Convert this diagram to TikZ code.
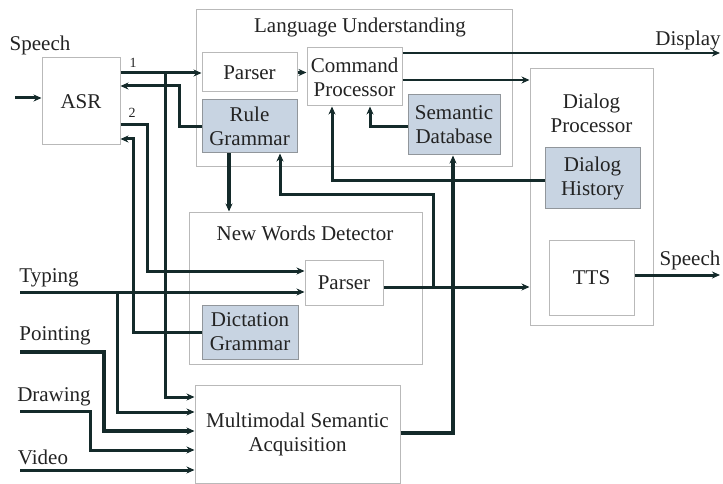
\documentclass[tikz,border=0pt]{standalone}
\usepackage{fontspec}
\setmainfont{Liberation Serif}
\usetikzlibrary{arrows.meta}
\definecolor{wire}{RGB}{20,42,42}
\definecolor{frame}{RGB}{185,185,185}
\definecolor{shadefill}{RGB}{200,212,226}
\definecolor{shadeline}{RGB}{145,150,155}
\definecolor{ink}{RGB}{35,35,35}
\tikzset{
  box/.style={draw=frame, line width=1pt, fill=white, text=ink, align=center, inner sep=0pt},
  dbox/.style={draw=shadeline, line width=1pt, fill=shadefill, text=ink, align=center, inner sep=0pt},
  lbl/.style={text=ink, inner sep=0pt, align=center},
  wirestyle/.style={draw=wire, line width=3pt},
  arr/.style={wirestyle, -{Stealth[length=8pt,width=7pt]}},
  thick arr/.style={arr, line width=3.3pt},
}
\begin{document}
\begin{tikzpicture}[x=1pt, y=-1pt, font=\fontsize{21}{24}\selectfont]
\useasboundingbox (0,0) rectangle (723,484);

% outer group frames
\node[box, minimum width=316, minimum height=157] (LU) at (354,88.5) {};
\node[lbl] (LUt) at (360,27) {Language Understanding};
\node[box, minimum width=123, minimum height=256] (DP) at (591.5,197) {};
\node[lbl] (DPt) at (591.5,113) {Dialog\\Processor};
\node[box, minimum width=233, minimum height=152] (NWD) at (305.5,288) {};
\node[lbl] (NWDt) at (305,233) {New Words Detector};

% modules
\node[box, minimum width=78, minimum height=87] (ASR) at (81,101.5) {ASR};
\node[box, minimum width=95, minimum height=39] (P1) at (249.5,72.5) {Parser};
\node[dbox, minimum width=95, minimum height=53] (RG) at (249.5,126.5) {Rule\\Grammar};
\node[box, minimum width=95, minimum height=58] (CP) at (354.5,77) {Command\\Processor};
\node[dbox, minimum width=92, minimum height=60] (SD) at (454,125) {Semantic\\Database};
\node[dbox, minimum width=95, minimum height=60] (DH) at (592.5,178) {Dialog\\History};
\node[box, minimum width=85, minimum height=75] (TTS) at (591.5,277.5) {TTS};
\node[box, minimum width=78, minimum height=45] (P2) at (344,283) {Parser};
\node[dbox, minimum width=96, minimum height=54] (DG) at (250,332) {Dictation\\Grammar};
\node[box, minimum width=205, minimum height=98] (MSA) at (297.5,434) {Multimodal Semantic\\Acquisition};

% external labels
\node[lbl] (inSpeech) at (40,45) {Speech};
\node[lbl] (inTyping) at (49,278) {Typing};
\node[lbl] (inPointing) at (55,336) {Pointing};
\node[lbl] (inDrawing) at (54,397) {Drawing};
\node[lbl] (inVideo) at (43,457) {Video};
\node[lbl] (outDisplay) at (688,40) {Display};
\node[lbl] (outSpeech) at (690,260) {Speech};
\node[lbl, font=\fontsize{14}{14}\selectfont] (n1) at (133,63) {1};
\node[lbl, font=\fontsize{14}{14}\selectfont] (n2) at (132,113) {2};

% free ends
\coordinate (sIn) at (15,98);
\coordinate (tIn) at (20,292);
\coordinate (pIn) at (20,352);
\coordinate (dIn) at (20,411);
\coordinate (vIn) at (20,470);
\coordinate (dispOut) at (720,53);
\coordinate (spOut) at (720,275);

% speech recognition paths
\draw[arr] (sIn) -- (ASR.west |- sIn);
\draw[arr] (ASR.east |- 0,73) -- (P1.west |- 0,73);
\draw[arr] (RG.west) -- (179,126.5) -- (179,86) -- (ASR.east |- 0,86);
\draw[arr] (ASR.east |- 0,125) -- (147,125) -- (147,271) -- (P2.west |- 0,271);
\draw[arr] (DG.west) -- (133,332) -- (133,139) -- (ASR.east |- 0,139);
\draw[arr] (165,73) -- (165,397) -- (MSA.west |- 0,397);

% language understanding
\draw[arr] (P1.east) -- (CP.west |- P1.east);
\draw[thick arr] (RG.south -| 229,0) -- (NWD.north -| 229,0);
\draw[arr] (SD.west |- 0,127) -- (370,127) -- (CP.south -| 370,0);
\draw[arr] (DH.west |- 0,180) -- (332,180) -- (CP.south -| 332,0);
\draw[arr, line width=2.6pt] (CP.east |- dispOut) -- (dispOut);
\draw[arr, line width=2.3pt] (CP.east |- 0,80) -- (DP.west |- 0,80);

% new words detector
\draw[arr] (tIn) -- (P2.west |- tIn);
\draw[arr] (117,292) -- (117,412) -- (MSA.west |- 0,412);
\draw[arr] (P2.east |- 0,287) -- (DP.west |- 0,287);
\draw[arr] (433,287) -- (433,194) -- (280,194) -- (RG.south -| 280,0);

% other modalities
\draw[thick arr] (pIn) -- (104,352) -- (104,431) -- (MSA.west |- 0,431);
\draw[arr] (dIn) -- (90,411) -- (90,450) -- (MSA.west |- 0,450);
\draw[arr] (vIn) -- (MSA.west |- vIn);
\draw[thick arr] (MSA.east |- 0,433) -- (453,433) -- (SD.south -| 453,0);

% speech output
\draw[arr] (TTS.east |- spOut) -- (spOut);
\end{tikzpicture}
\end{document}
